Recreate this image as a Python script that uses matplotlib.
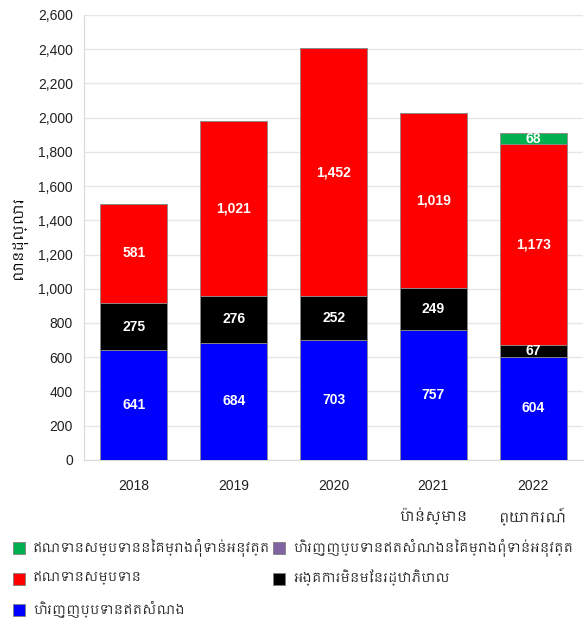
import matplotlib
matplotlib.use("Agg")
import matplotlib.pyplot as plt
from matplotlib import font_manager
from matplotlib.patches import Rectangle
from matplotlib.ticker import FuncFormatter
import numpy as np

# data
years = ["2018", "2019", "2020", "2021\nប៉ាន់ស្មាន", "2022\nព្យាករណ៍"]
grant = [641, 684, 703, 757, 604]             # blue
ngo = [275, 276, 252, 249, 67]                # black
concessional = [581, 1021, 1452, 1019, 1173]  # red
conc_pending = [0, 0, 0, 0, 68]               # green
grant_pending = [0, 0, 0, 0, 0]               # purple

labels = {
    "conc_pending": "ឥណទានសម្បទាននៃគម្រោងពុំទាន់អនុវត្ត",
    "grant_pending": "ហិរញ្ញប្បទានឥតសំណងនៃគម្រោងពុំទាន់អនុវត្ត",
    "concessional": "ឥណទានសម្បទាន",
    "ngo": "អង្គការមិនមែនរដ្ឋាភិបាល",
    "grant": "ហិរញ្ញប្បទានឥតសំណង",
}
ylabel = "លានដុល្លារ"

# font: look for something that can draw Khmer
khmer = [f.name for f in font_manager.fontManager.ttflist if "khmer" in f.name.lower()]
families = ["Liberation Sans"] + khmer[:1] + ["Noto Sans", "DejaVu Sans"]
plt.rcParams["font.family"] = families

W, H = 585, 624
fig = plt.figure(figsize=(W / 100, H / 100), dpi=100)
ax = fig.add_axes([0.1436, 0.263, 0.853, 0.713])

x = np.arange(len(years))
w = 0.67
edge = dict(edgecolor="#8c8c8c", linewidth=0.6, zorder=3)

bottom = np.zeros(len(years))
series = [
    (grant, "#0000ff"),
    (ngo, "#000000"),
    (concessional, "#ff0000"),
    (conc_pending, "#00b050"),
    (grant_pending, "#8064a2"),
]
for vals, col in series:
    vals = np.array(vals, dtype=float)
    ax.bar(x, vals, w, bottom=bottom, color=col, **edge)
    for xi, b, v in zip(x, bottom, vals):
        if v > 0:
            ax.text(xi, b + v / 2, f"{int(v):,}", ha="center", va="center",
                    color="white", fontsize=10, fontweight="bold", zorder=4)
    bottom += vals

ax.set_xlim(-0.5, len(years) - 0.5)
ax.set_ylim(0, 2600)
ax.set_yticks(np.arange(0, 2601, 200))
ax.yaxis.set_major_formatter(FuncFormatter(lambda v, p: f"{int(v):,}"))
ax.set_xticks(x)
ax.set_xticklabels(years, linespacing=2.0)
ax.tick_params(axis="both", length=0, labelsize=10, colors="#222222")
ax.tick_params(axis="x", pad=14)
ax.tick_params(axis="y", pad=8)
ax.grid(axis="y", color="#e6e6e6", linewidth=1, zorder=0)
for s in ["top", "right"]:
    ax.spines[s].set_visible(False)
ax.spines["left"].set_color("#d9d9d9")
ax.spines["bottom"].set_color("#d9d9d9")
ax.set_ylabel(ylabel, fontsize=10, labelpad=8)

# legend, laid out by hand so both columns share the same rows
entries = [
    ("conc_pending", "#00b050", 0, 0),
    ("concessional", "#ff0000", 0, 1),
    ("grant", "#0000ff", 0, 2),
    ("grant_pending", "#8064a2", 1, 0),
    ("ngo", "#000000", 1, 1),
]
col_x = [13, 273]
row_y = [547, 578, 609]
box = 12
for key, col, c, r in entries:
    x0, y0 = col_x[c], row_y[r]
    fig.patches.append(Rectangle((x0 / W, (H - y0 - box / 2 - 1) / H), box / W, box / H,
                                 transform=fig.transFigure, facecolor=col,
                                 edgecolor="#7f7f7f", linewidth=0.6))
    fig.text((x0 + box + 8) / W, (H - y0) / H, labels[key], fontsize=9,
             ha="left", va="center", color="#222222")

fig.savefig("out.png", dpi=100)
